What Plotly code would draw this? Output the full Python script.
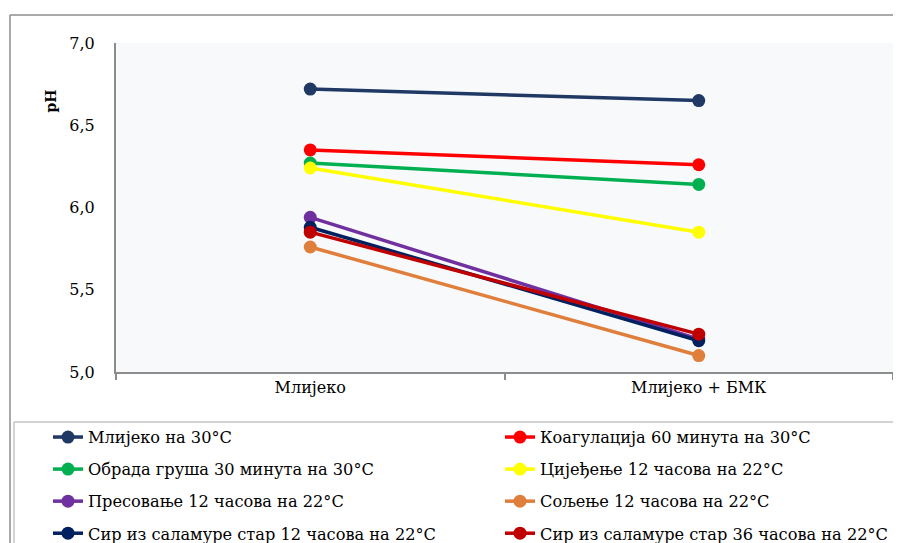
import plotly.graph_objects as go

categories = ["Млијеко", "Млијеко + БМК"]

names = [
    "Млијеко на 30°С",
    "Коагулација 60 минута на 30°С",
    "Обрада груша 30 минута на 30°С",
    "Цијеђење 12 часова на 22°С",
    "Пресовање 12 часова на 22°С",
    "Сољење 12 часова на 22°С",
    "Сир из саламуре стар 12 часова на 22°С",
    "Сир из саламуре стар 36 часова на 22°С",
]

ph_milk = [6.72, 6.35, 6.27, 6.24, 5.94, 5.76, 5.88, 5.85]
ph_milk_bmk = [6.65, 6.26, 6.14, 5.85, 5.20, 5.10, 5.19, 5.23]

colors = ["#1F3864", "#FF0000", "#00B050", "#FFFF00",
          "#7030A0", "#E07E3C", "#002060", "#C00000"]

# draw order: lower series on top like the original
draw_order = [0, 1, 2, 3, 4, 6, 7, 5]

# page puts the figure 8px in from the top-left corner
OFF = 8
W, H = 901 - 2 * OFF, 543 - OFF
L, T = 116 - OFF, 43 - OFF
R = 0
B = H - (372 - OFF)
pw, ph = W - L - R, H - T - B

def px(x):
    # x in page pixels -> paper coords
    return (x - OFF - L) / pw

def py_(y):
    return (H - B - (y - OFF)) / ph

FONT = "DejaVu Serif"

fig = go.Figure()
for i in draw_order:
    fig.add_trace(go.Scatter(
        x=categories, y=[ph_milk[i], ph_milk_bmk[i]],
        name=names[i], mode="lines+markers",
        line=dict(color=colors[i], width=3.5),
        marker=dict(color=colors[i], size=13),
        legend="legend" if i % 2 == 0 else "legend2",
        legendgroup=str(i),
        legendrank=i,
    ))

legend_common = dict(
    orientation="v", yanchor="top", y=py_(420), xanchor="left",
    font=dict(family=FONT, size=16.2, color="#000000"),
    bgcolor="rgba(0,0,0,0)", tracegroupgap=8,
)

fig.update_layout(
    width=W, height=H,
    margin=dict(l=L, r=R, t=T, b=B, autoexpand=False),
    paper_bgcolor="white",
    plot_bgcolor="#F8F9FB",
    font=dict(family=FONT, size=16, color="#000000"),
    legend=dict(x=px(48), **legend_common),
    legend2=dict(x=px(500), **legend_common),
    xaxis=dict(
        range=[-0.5, 1.5],
        showgrid=False, showline=True, linecolor="#8C8C8C", linewidth=2,
        ticks="outside", tickson="boundaries", ticklen=6, tickcolor="#8C8C8C",
        tickwidth=2, tickfont=dict(family=FONT, size=16), zeroline=False,
    ),
    yaxis=dict(
        range=[5, 7], dtick=0.5, tickformat=".1f",
        showgrid=False, showline=True, linecolor="#8C8C8C", linewidth=2,
        ticks="", ticklabelstandoff=16, tickfont=dict(family=FONT, size=16),
        zeroline=False,
    ),
    separators=",.",
    shapes=[
        dict(type="line", xref="paper", yref="paper",
             x0=px(10), x1=px(893), y0=py_(15), y1=py_(15),
             line=dict(color="#8C8C8C", width=1.5)),
        dict(type="line", xref="paper", yref="paper",
             x0=px(10), x1=px(10), y0=py_(15), y1=py_(543),
             line=dict(color="#8C8C8C", width=1.5)),
        dict(type="line", xref="paper", yref="paper",
             x0=px(14), x1=px(893), y0=py_(422), y1=py_(422),
             line=dict(color="#A6A6A6", width=1)),
        dict(type="line", xref="paper", yref="paper",
             x0=px(14), x1=px(14), y0=py_(422), y1=py_(543),
             line=dict(color="#A6A6A6", width=1)),
    ],
    annotations=[
        dict(text="<b>pH</b>", xref="paper", yref="paper",
             x=px(40), y=py_(88), textangle=-90, showarrow=False,
             font=dict(family=FONT, size=14)),
    ],
)

fig.write_html("out.html")
